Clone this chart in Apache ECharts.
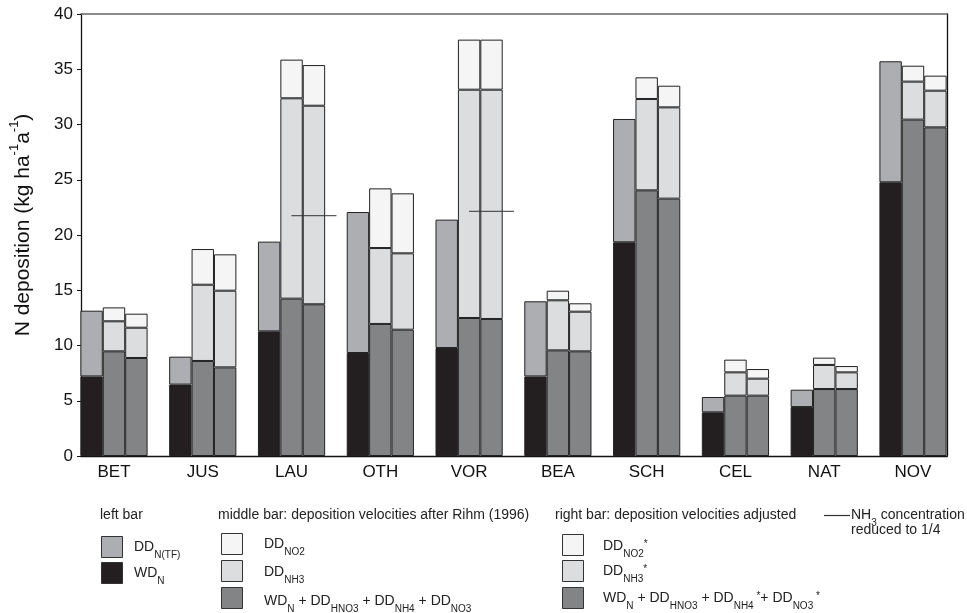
<!DOCTYPE html>
<html>
<head>
<meta charset="utf-8">
<script src="https://cdn.jsdelivr.net/npm/echarts@6/dist/echarts.min.js"></script>
<style>
html,body{margin:0;padding:0;background:#fff;}
#chart{width:967px;height:613px;}
</style>
</head>
<body>
<div id="chart"></div>
<script>
// ---- data ----
const categories = ['BET','JUS','LAU','OTH','VOR','BEA','SCH','CEL','NAT','NOV'];
const yTicks = [0,5,10,15,20,25,30,35,40];
// left bar
const wdN    = [7.2, 6.46, 11.28, 9.32, 9.77, 7.2, 19.34, 3.95, 4.43, 24.77];
const ddNTF  = [5.95, 2.53, 8.12, 12.76, 11.62, 6.8, 11.16, 1.39, 1.57, 10.95];
// middle bar (Rihm 1996)
const midBase = [9.47, 8.6, 14.24, 11.95, 12.49, 9.56, 24.04, 5.46, 6.06, 30.44];
const midNH3  = [2.72, 6.9, 18.13, 6.87, 20.66, 4.53, 8.27, 2.11, 2.18, 3.44];
const midNO2  = [1.26, 3.23, 3.5, 5.4, 4.53, 0.87, 1.96, 1.15, 0.66, 1.44];
// right bar (adjusted)
const adjBase = [8.87, 8.02, 13.73, 11.43, 12.4, 9.47, 23.29, 5.46, 6.06, 29.74];
const adjNH3  = [2.74, 6.94, 17.97, 6.91, 20.75, 3.59, 8.26, 1.54, 1.51, 3.32];
const adjNO2  = [1.27, 3.29, 3.68, 5.43, 4.53, 0.76, 1.96, 0.87, 0.57, 1.36];
// NH3 concentration reduced to 1/4
const nh3Reduced = ['-', '-', 21.75, '-', 22.14, '-', '-', '-', '-', '-'];

// ---- style ----
const FONT = 'Liberation Sans, Arial, sans-serif';
const C_BLACK = '#231f20', C_TF = '#adaeb1', C_BASE = '#838486', C_NH3 = '#dcdddf', C_NO2 = '#f5f5f5';
const EDGE = '#222';
const BW = 22.4;

const chart = echarts.init(document.getElementById('chart'), null, {renderer: 'canvas'});

function barSeries(name, data, stack, color) {
  return {
    name, type: 'bar', data, stack,
    xAxisIndex: 2, yAxisIndex: 2,
    barWidth: BW, barGap: '0%',
    itemStyle: {color, borderColor: EDGE, borderWidth: 1},
    emphasis: {disabled: true},
    animation: false
  };
}

const RICH = {
  m: {fontSize: 14, fontFamily: FONT, fill: '#222', lineHeight: 16, verticalAlign: 'top'},
  s: {fontSize: 10, fontFamily: FONT, fill: '#222', lineHeight: 20, verticalAlign: 'bottom'},
  p: {fontSize: 10, fontFamily: FONT, fill: '#222', lineHeight: 16, verticalAlign: 'top'}
};
function txt(x, y, text) {
  return {type: 'text', left: x, top: y, silent: true,
    style: {text, rich: RICH, font: '14px ' + FONT, fill: '#222'}};
}
function box(x, y, color) {
  return {type: 'rect', left: x, top: y, silent: true,
    shape: {width: 21, height: 21},
    style: {fill: color, stroke: '#333', lineWidth: 1}};
}

const graphics = [
  txt(100, 508.5, '{m|left bar}'),
  box(101, 536, C_TF), txt(134, 540.5, '{m|DD}{s|N(TF)}'),
  box(101, 562, C_BLACK), txt(134, 566.5, '{m|WD}{s|N}'),

  txt(218, 508.5, '{m|middle bar: deposition velocities after Rihm (1996)}'),
  box(221, 533, C_NO2), txt(264, 537.5, '{m|DD}{s|NO2}'),
  box(221, 560, C_NH3), txt(264, 565.5, '{m|DD}{s|NH3}'),
  box(221, 587, C_BASE), txt(264, 594, '{m|WD}{s|N}{m| + DD}{s|HNO3}{m| + DD}{s|NH4}{m| + DD}{s|NO3}'),

  txt(555, 508.5, '{m|right bar: deposition velocities adjusted}'),
  box(562, 534, C_NO2), txt(603, 539, '{m|DD}{s|NO2}{p|*}'),
  box(562, 560, C_NH3), txt(603, 564, '{m|DD}{s|NH3}{p|*}'),
  box(562, 587, C_BASE), txt(603, 591.5, '{m|WD}{s|N}{m| + DD}{s|HNO3}{m| + DD}{s|NH4}{p| *}{m|+ DD}{s|NO3}{p| *}'),

  {type: 'line', silent: true, shape: {x1: 824, y1: 515.5, x2: 850, y2: 515.5},
    style: {stroke: '#333', lineWidth: 1.2}},
  txt(851, 508.5, '{m|NH}{s|3}{m| concentration}'),
  txt(851, 523.5, '{m|reduced to 1/4}')
];

const option = {
  backgroundColor: '#fff',
  animation: false,
  textStyle: {fontFamily: FONT},
  grid: [
    {left: 80, right: 20, top: 14, bottom: 157, containLabel: false},
    {left: 69.6, right: 9.6, top: 14, bottom: 157, containLabel: false}
  ],
  xAxis: [
    {gridIndex: 0, type: 'value', min: 0, max: 1, position: 'bottom',
      axisLine: {show: true, onZero: false, lineStyle: {color: '#111', width: 1.3}},
      axisTick: {show: false}, axisLabel: {show: false}, splitLine: {show: false}},
    {gridIndex: 0, type: 'value', min: 0, max: 1, position: 'top',
      axisLine: {show: true, onZero: false, lineStyle: {color: '#666', width: 1.6}},
      axisTick: {show: false}, axisLabel: {show: false}, splitLine: {show: false}},
    {gridIndex: 1, type: 'category', data: categories, boundaryGap: true,
      axisLine: {show: false}, axisTick: {show: false}, splitLine: {show: false},
      axisLabel: {fontSize: 17, color: '#111', fontFamily: FONT, margin: 8}}
  ],
  yAxis: [
    {gridIndex: 0, type: 'value', min: 0, max: 40, interval: 5, position: 'left',
      name: '{m|N deposition (kg ha}{p|-1}{m|a}{p|-1}{m|)}',
      nameLocation: 'middle', nameGap: 47, nameRotate: 90,
      nameTextStyle: {
        padding: [0, 0, 0, 20],
        rich: {
          m: {fontSize: 21, fontFamily: FONT, color: '#111', lineHeight: 26, verticalAlign: 'bottom'},
          p: {fontSize: 13, fontFamily: FONT, color: '#111', lineHeight: 26, verticalAlign: 'top'}
        }
      },
      axisLine: {show: true, onZero: false, lineStyle: {color: '#111', width: 1.3}},
      axisTick: {show: true, length: 4, inside: false, lineStyle: {color: '#111'}},
      axisLabel: {fontSize: 17, color: '#111', fontFamily: FONT, margin: 8,
        formatter: v => yTicks.includes(v) ? String(v) : ''},
      splitLine: {show: false}},
    {gridIndex: 0, type: 'value', min: 0, max: 40, position: 'right',
      axisLine: {show: true, onZero: false, lineStyle: {color: '#111', width: 1.3}},
      axisTick: {show: false}, axisLabel: {show: false}, splitLine: {show: false}},
    {gridIndex: 1, type: 'value', min: 0, max: 40, interval: 5, show: false,
      splitLine: {show: false}}
  ],
  series: [
    barSeries('WD_N', wdN, 'left', C_BLACK),
    barSeries('DD_N(TF)', ddNTF, 'left', C_TF),
    barSeries('WD+DD', midBase, 'mid', C_BASE),
    barSeries('DD_NH3', midNH3, 'mid', C_NH3),
    barSeries('DD_NO2', midNO2, 'mid', C_NO2),
    barSeries('WD+DD*', adjBase, 'right', C_BASE),
    barSeries('DD_NH3*', adjNH3, 'right', C_NH3),
    barSeries('DD_NO2*', adjNO2, 'right', C_NO2),
    {name: 'NH3 reduced', type: 'scatter', xAxisIndex: 2, yAxisIndex: 2,
      data: nh3Reduced, symbol: 'rect', symbolSize: [45, 1.4], symbolOffset: [BW, 0],
      itemStyle: {color: '#333'}, z: 5, silent: true, animation: false}
  ],
  graphic: graphics
};
chart.setOption(option);
</script>
</body>
</html>
